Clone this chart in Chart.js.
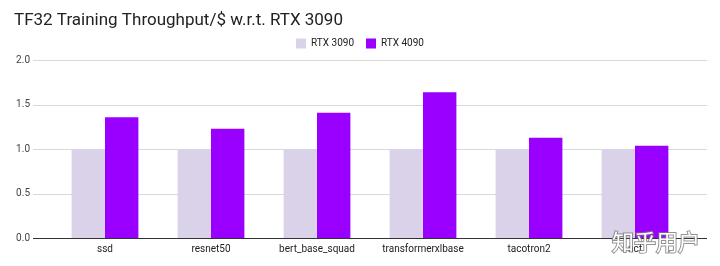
<!DOCTYPE html>
<html>
<head>
<meta charset="utf-8">
<script src="https://cdn.jsdelivr.net/npm/chart.js@4"></script>
<style>
  html, body { margin: 0; padding: 0; background: #fff; }
  #wrap { width: 720px; height: 266px; }
</style>
</head>
<body>
<div id="wrap"><canvas id="bar-chart"></canvas></div>
<script>
const models = ["ssd", "resnet50", "bert_base_squad", "transformerxlbase", "tacotron2", "ncf"];
const rtx3090 = [1, 1, 1, 1, 1, 1];
const rtx4090 = [1.36, 1.23, 1.41, 1.64, 1.13, 1.04];
const yTicks = [0, 0.5, 1.0, 1.5, 2.0];

// grid lines in the reference run wider than the bar area
const wideGrid = {
    id: 'wideGrid',
    afterLayout(chart) {
        // center the legend on the page like the original
        const lg = chart.legend;
        lg.left = 32;
        lg.right = 688;
        lg.top -= 2;
        lg.bottom -= 2;
    },
    beforeDatasetsDraw(chart) {
        const y = chart.scales.y;
        const ctx = chart.ctx;
        ctx.save();
        yTicks.forEach(v => {
            const py = Math.round(y.getPixelForValue(v)) + 0.5;
            ctx.strokeStyle = v === 0 ? '#333333' : '#d9d9d9';
            ctx.lineWidth = 1;
            ctx.beginPath();
            ctx.moveTo(33, py);
            ctx.lineTo(707, py);
            ctx.stroke();
        });
        ctx.restore();
    },
    afterDraw(chart) {
        const ctx = chart.ctx;
        ctx.save();
        ctx.font = '22px "Noto Sans CJK SC"';
        ctx.textBaseline = 'alphabetic';
        ctx.lineWidth = 2;
        ctx.strokeStyle = 'rgba(120,120,120,0.8)';
        ctx.fillStyle = '#ffffff';
        ctx.strokeText('知乎用户', 612, 250);
        ctx.fillText('知乎用户', 612, 250);
        ctx.restore();
    }
};

new Chart(document.getElementById("bar-chart"), {
    type: 'bar',
    data: {
        labels: models,
        datasets: [{
            label: "RTX 3090",
            backgroundColor: "#d9d2e9",
            data: rtx3090
        }, {
            label: "RTX 4090",
            backgroundColor: "#9900ff",
            data: rtx4090
        }]
    },
    plugins: [wideGrid],
    options: {
        responsive: true,
        maintainAspectRatio: false,
        animation: false,
        layout: {
            padding: { left: 14, right: 32, top: 0, bottom: 6 }
        },
        datasets: {
            bar: { categoryPercentage: 0.63, barPercentage: 1.0 }
        },
        plugins: {
            title: {
                display: true,
                text: 'TF32 Training Throughput/$ w.r.t. RTX 3090',
                align: 'start',
                color: '#222222',
                font: { family: 'Roboto', size: 17, weight: 'normal' },
                padding: { top: 11, bottom: -3 }
            },
            legend: {
                display: true,
                position: 'top',
                labels: {
                    boxWidth: 10,
                    boxHeight: 10,
                    color: '#222222',
                    padding: 12,
                    font: { family: 'Roboto', size: 10 }
                }
            },
            tooltip: { enabled: false }
        },
        scales: {
            x: {
                grid: { display: false, drawTicks: false },
                border: { display: false },
                ticks: {
                    color: '#222222',
                    padding: 5,
                    font: { family: 'Roboto', size: 10 }
                }
            },
            y: {
                min: 0,
                max: 2,
                afterFit: s => { s.width = 38; },
                afterBuildTicks: s => { s.ticks = yTicks.map(v => ({ value: v })); },
                grid: { display: false, drawTicks: false },
                border: { display: false },
                ticks: {
                    color: '#444444',
                    padding: 22,
                    font: { family: 'Roboto', size: 10 },
                    callback: v => v.toFixed(1)
                }
            }
        }
    }
});
</script>
</body>
</html>
